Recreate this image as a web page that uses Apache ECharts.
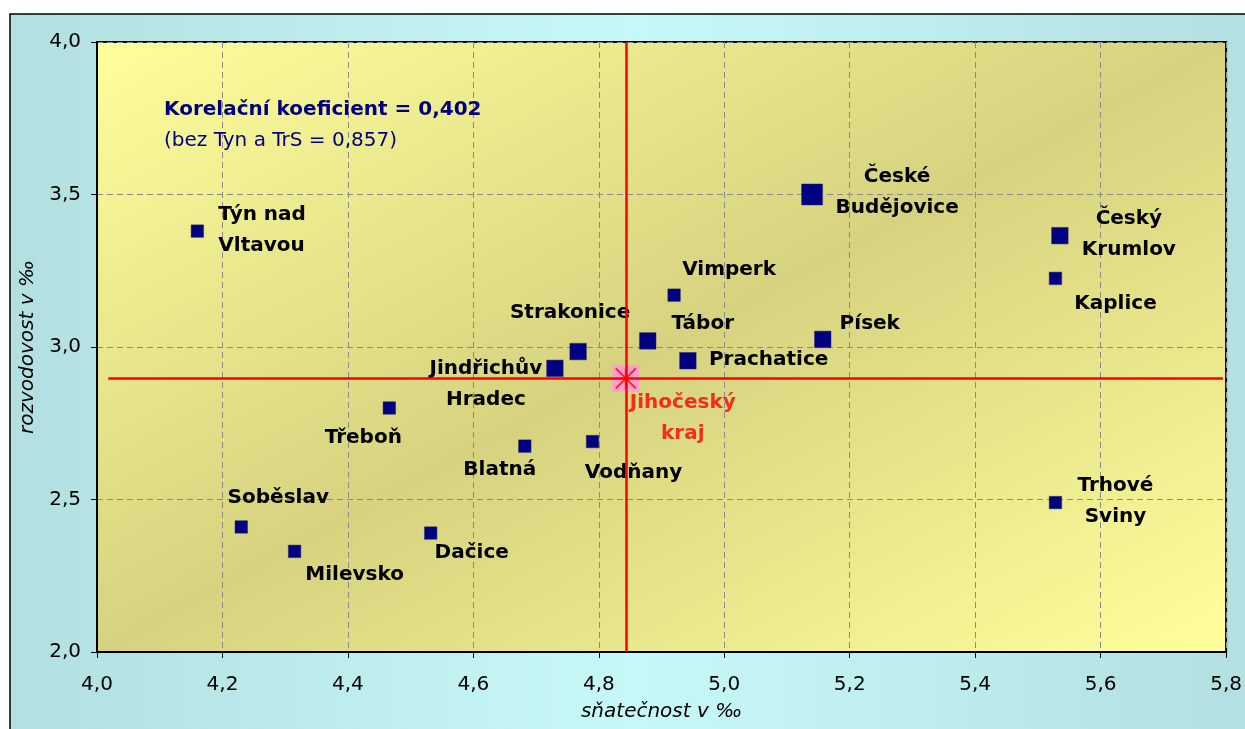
<!DOCTYPE html>
<html>
<head>
<meta charset="utf-8">
<script src="https://cdn.jsdelivr.net/npm/echarts@6/dist/echarts.min.js"></script>
<style>
html,body{margin:0;padding:0;background:#fff;}
#chart{width:1245px;height:729px;}
</style>
</head>
<body>
<div id="chart"></div>
<script>
// ---- data ----
const okresy = ['Týn nad Vltavou','České Budějovice','Český Krumlov','Kaplice','Písek','Trhové Sviny','Vimperk','Tábor','Prachatice','Strakonice','Jindřichův Hradec','Blatná','Vodňany','Třeboň','Soběslav','Milevsko','Dačice'];
const snatecnost = [4.16, 5.14, 5.535, 5.528, 5.157, 5.528, 4.92, 4.878, 4.942, 4.767, 4.73, 4.682, 4.79, 4.466, 4.23, 4.315, 4.532];
const rozvodovost = [3.38, 3.50, 3.365, 3.225, 3.025, 2.49, 3.17, 3.02, 2.955, 2.985, 2.93, 2.675, 2.69, 2.80, 2.41, 2.33, 2.39];
const kraj = 'Jihočeský kraj';
const krajSnatecnost = 4.843;
const krajRozvodovost = 2.897;
const xTicks = ['4,0','4,2','4,4','4,6','4,8','5,0','5,2','5,4','5,6','5,8'];
const yTicks = ['2,0','2,5','3,0','3,5','4,0'];
const korelace = 'Korelační koeficient = 0,402';
const korelaceBez = '(bez Tyn a TrS = 0,857)';

// ---- styling (not data) ----
const markerSize = {
  'České Budějovice': 21,
  'Český Krumlov': 16.5, 'Písek': 16.5, 'Tábor': 16.5, 'Prachatice': 16.5, 'Strakonice': 16.5, 'Jindřichův Hradec': 16.5
};
const labelText = {
  'Týn nad Vltavou': 'Týn nad\nVltavou', 'České Budějovice': 'České\nBudějovice',
  'Český Krumlov': 'Český\nKrumlov', 'Trhové Sviny': 'Trhové\nSviny',
  'Jindřichův Hradec': 'Jindřichův\nHradec', 'Jihočeský kraj': 'Jihočeský\nkraj'
};
const labelLayout = {
  'Týn nad Vltavou': [21, -1, 'left'],
  'České Budějovice': [85, -2, 'center'],
  'Český Krumlov': [69, -1, 'center'],
  'Kaplice': [60, 25, 'center'],
  'Písek': [47, -16, 'center'],
  'Trhové Sviny': [60, -1, 'center'],
  'Vimperk': [55, -25, 'center'],
  'Tábor': [55, -17, 'center'],
  'Prachatice': [21, -1, 'left'],
  'Strakonice': [-8, -39, 'center'],
  'Jindřichův Hradec': [-69, 16, 'center'],
  'Blatná': [-25, 24, 'center'],
  'Vodňany': [41, 31, 'center'],
  'Třeboň': [-26, 30, 'center'],
  'Soběslav': [37, -29, 'center'],
  'Milevsko': [60, 23, 'center'],
  'Dačice': [41, 20, 'center'],
  'Jihočeský kraj': [57, 40, 'center']
};
const FONT = '"DejaVu Sans", sans-serif';

function labelFor(name, color) {
  const l = labelLayout[name];
  return {
    show: true, position: 'inside', offset: [l[0], l[1]], align: l[2], verticalAlign: 'middle',
    formatter: labelText[name] || name, color: color, fontFamily: FONT, fontWeight: 'bold',
    fontSize: 20, lineHeight: 31, textBorderWidth: 0, textShadowBlur: 0
  };
}

const pointData = okresy.map((n, i) => ({
  name: n, value: [snatecnost[i], rozvodovost[i]], label: labelFor(n, '#000000')
}));

const xMin = 4.0, xMax = 5.8, yMin = 2.0, yMax = 4.0;

// plot-area gradient: diagonal in normalized space (isolines along the anti-diagonal)
const G = {left: 97, top: 42, w: 1131, h: 610};
const gk = 2 * G.w * G.h / (G.w * G.w + G.h * G.h);
const plotFill = new echarts.graphic.LinearGradient(
  G.left, G.top, G.left + G.h * gk, G.top + G.w * gk,
  [{offset: 0, color: '#fefe9c'}, {offset: 0.5, color: '#d6d27f'}, {offset: 1, color: '#ffff9c'}], true);

const chart = echarts.init(document.getElementById('chart'), null, {renderer: 'canvas'});
chart.setOption({
  animation: false,
  backgroundColor: '#ffffff',
  graphic: [
    {type: 'rect', z: -10, silent: true,
     shape: {x: 10, y: 14, width: 1250, height: 730},
     style: {
       fill: new echarts.graphic.LinearGradient(0, 0, 1, 0, [
         {offset: 0, color: '#b2dfe0'}, {offset: 0.5, color: '#c7f8f8'}, {offset: 1, color: '#b2dfe0'}
       ]),
       stroke: '#000000', lineWidth: 1.5
     }},
    {type: 'text', left: 164, top: 100, z: 10,
     style: {text: korelace, fill: '#000080', font: 'bold 20px ' + FONT}},
    {type: 'text', left: 164, top: 131, z: 10,
     style: {text: korelaceBez, fill: '#000080', font: '20px ' + FONT}}
  ],
  grid: {
    left: G.left, right: 1245 - G.left - G.w, top: G.top, bottom: 729 - G.top - G.h,
    show: true, borderColor: '#000000', borderWidth: 2,
    backgroundColor: plotFill
  },
  xAxis: {
    type: 'value', min: xMin, max: xMax, interval: 0.2,
    name: 'sňatečnost v ‰', nameLocation: 'middle', nameGap: 50,
    nameTextStyle: {fontFamily: FONT, fontSize: 20, fontStyle: 'italic', color: '#000'},
    axisLine: {show: true, lineStyle: {color: '#000', width: 2}},
    axisTick: {show: true, length: 6, lineStyle: {color: '#000', width: 1}},
    axisLabel: {margin: 23, fontFamily: FONT, fontSize: 20, color: '#000',
      formatter: (v) => xTicks[Math.round((v - xMin) / 0.2)]},
    splitLine: {show: true, lineStyle: {color: '#8a8a8a', type: [6, 4], width: 1}}
  },
  yAxis: {
    type: 'value', min: yMin, max: yMax, interval: 0.5,
    name: 'rozvodovost v ‰', nameLocation: 'middle', nameGap: 56,
    nameTextStyle: {fontFamily: FONT, fontSize: 20, fontStyle: 'italic', color: '#000'},
    axisLine: {show: true, lineStyle: {color: '#000', width: 2}},
    axisTick: {show: true, length: 6, lineStyle: {color: '#000', width: 1}},
    axisLabel: {margin: 16, fontFamily: FONT, fontSize: 20, color: '#000',
      formatter: (v) => yTicks[Math.round((v - yMin) / 0.5)]},
    splitLine: {show: true, lineStyle: {color: '#8a8a8a', type: [6, 4], width: 1}}
  },
  series: [
    {
      type: 'scatter', name: 'okresy', symbol: 'rect', z: 3,
      symbolSize: (val, p) => markerSize[p.name] || 12.5,
      itemStyle: {color: '#000080', borderColor: '#2a2a70', borderWidth: 0.5, opacity: 1},
      data: pointData
    },
    {
      type: 'scatter', name: 'kraj-bg', symbol: 'rect', symbolSize: 27, z: 2,
      itemStyle: {color: '#ff9fcf', opacity: 1},
      data: [{name: kraj, value: [krajSnatecnost, krajRozvodovost]}],
      markLine: {
        silent: true, symbol: ['none', 'none'], label: {show: false},
        lineStyle: {color: '#ff0000', width: 2.5, type: 'solid'},
        data: [
          [{coord: [krajSnatecnost, yMin]}, {coord: [krajSnatecnost, yMax]}],
          [{coord: [xMin + 0.018, krajRozvodovost]}, {coord: [xMax - 0.005, krajRozvodovost]}]
        ]
      }
    },
    {
      type: 'scatter', name: 'kraj', z: 4,
      symbol: 'path://M0,0L20,20M20,0L0,20M10,0L10,20', symbolSize: 20,
      itemStyle: {color: 'none', borderColor: '#ff0000', borderWidth: 2},
      data: [{name: kraj, value: [krajSnatecnost, krajRozvodovost], label: labelFor(kraj, '#ff0000')}]
    }
  ]
});
</script>
</body>
</html>
